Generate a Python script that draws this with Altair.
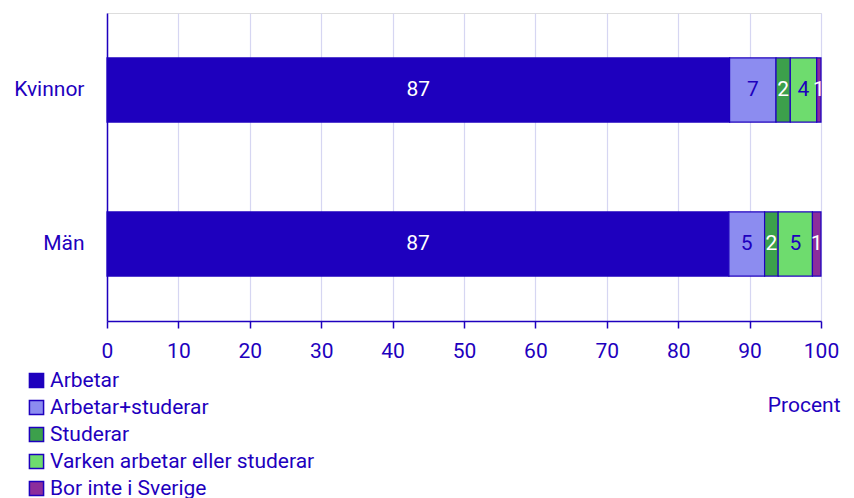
import altair as alt
import pandas as pd

groups = ["Kvinnor", "Män"]
categories = ["Arbetar", "Arbetar+studerar", "Studerar", "Varken arbetar eller studerar", "Bor inte i Sverige"]
kvinnor = [87.2, 6.5, 2.0, 3.7, 0.6]
man = [87.1, 5.0, 1.9, 4.8, 1.2]
colors = ["#1e00be", "#8c8cf0", "#3ca04b", "#6edc6e", "#8c2d9b"]
label_colors = ["#ffffff", "#1e00be", "#ffffff", "#1e00be", "#ffffff"]

rows = []
for g, vals in zip(groups, [kvinnor, man]):
    for i, (c, v) in enumerate(zip(categories, vals)):
        rows.append({"group": g, "cat": c, "value": v, "order": i, "lc": label_colors[i]})
df = pd.DataFrame(rows)

TXT = "#1e00be"
FONT = "Roboto"
FS = 21

base = alt.Chart(df).transform_stack(
    stack="value", groupby=["group"], as_=["x0", "x1"], sort=[alt.SortField("order", "ascending")]
).transform_calculate(mid="(datum.x0 + datum.x1) / 2", lab="round(datum.value)")

y_enc = alt.Y("group:N", sort=groups, title=None,
              scale=alt.Scale(paddingInner=0.584, paddingOuter=0.292),
              axis=alt.Axis(ticks=False, labelPadding=23, domainColor=TXT, domainWidth=1.5,
                            labelColor=TXT, labelFont=FONT, labelFontSize=FS, grid=False))

bars = base.mark_bar(stroke=TXT, strokeWidth=1.2).encode(
    x=alt.X("x0:Q", scale=alt.Scale(domain=[0, 100], nice=False),
            axis=alt.Axis(values=list(range(0, 101, 10)), title="Procent", grid=True,
                          gridColor="#d6d6f2", gridWidth=1.2, domainColor=TXT, domainWidth=1.5,
                          tickColor=TXT, tickSize=7, tickWidth=1.5, labelColor=TXT,
                          labelFont=FONT, labelFontSize=FS, labelPadding=12, labelFlush=False,
                          titleColor=TXT, titleFont=FONT, titleFontSize=FS, titleFontWeight="normal",
                          titleX=733, titleY=84, titleAlign="right", titleBaseline="middle")),
    x2="x1:Q",
    y=y_enc,
    color=alt.Color("cat:N", sort=categories,
                    scale=alt.Scale(domain=categories, range=colors),
                    legend=alt.Legend(title=None, orient="none", legendX=-81, legendY=357,
                                      direction="vertical", columns=1,
                                      symbolType="square", symbolSize=200, symbolStrokeColor=TXT,
                                      symbolStrokeWidth=1.5, symbolOpacity=1,
                                      labelColor=TXT, labelFont=FONT, labelFontSize=FS,
                                      labelOffset=3, rowPadding=5, labelLimit=400)),
    order=alt.Order("order:Q"),
)

labels = base.mark_text(font=FONT, fontSize=FS, baseline="middle", align="center").encode(
    x=alt.X("mid:Q"),
    y=alt.Y("group:N", sort=groups),
    text=alt.Text("lab:Q", format="d"),
    color=alt.Color("lc:N", scale=None),
)

chart = (bars + labels).properties(width=714, height=308).configure_view(stroke=None).configure(
    background="white"
)

chart.save("out.html", embed_options={"renderer": "svg", "actions": False})
